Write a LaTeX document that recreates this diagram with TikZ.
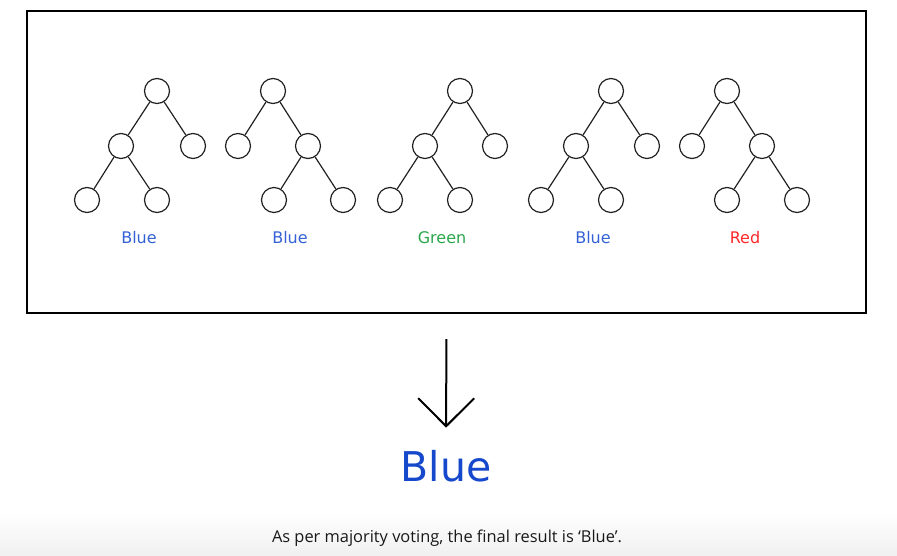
\documentclass[tikz,border=0pt]{standalone}
\usepackage{fontspec}
\setmainfont{DejaVu Sans}
\newfontfamily\capfont{Open Sans}
\usetikzlibrary{arrows.meta}
\definecolor{voteblue}{RGB}{52,98,214}
\definecolor{votegreen}{RGB}{44,166,76}
\definecolor{votered}{RGB}{255,40,40}
\definecolor{finalblue}{RGB}{22,72,204}
\definecolor{treeline}{RGB}{34,34,34}

\begin{document}
\begin{tikzpicture}[x=1pt,y=-1pt,
		vote/.style={circle, draw=treeline, minimum size=25pt, inner sep=0pt, line width=1.2pt},
		tally/.style={font=\fontsize{16}{18}\selectfont}]
		\useasboundingbox (0,0) rectangle (897,556);
		\shade[top color=white, bottom color=black!6] (0,512) rectangle (897,556);

		\draw (446.5,162) node [draw, line width=2.2pt, minimum width=839pt, minimum height=302pt] (box) {};

		% tree 1
		\draw (157,91) node [vote] (a1) {};
		\draw (121,146) node [vote] (b1) {};
		\draw (193,146) node [vote] (c1) {};
		\draw (87,200) node [vote] (d1) {};
		\draw (157,200) node [vote] (e1) {};
		% tree 2
		\draw (273,91) node [vote] (a2) {};
		\draw (308,146) node [vote] (b2) {};
		\draw (238,146) node [vote] (c2) {};
		\draw (274,200) node [vote] (d2) {};
		\draw (343,200) node [vote] (e2) {};
		% tree 3
		\draw (460,91) node [vote] (a3) {};
		\draw (425,146) node [vote] (b3) {};
		\draw (495,146) node [vote] (c3) {};
		\draw (390,200) node [vote] (d3) {};
		\draw (460,200) node [vote] (e3) {};
		% tree 4
		\draw (611,91) node [vote] (a4) {};
		\draw (576,146) node [vote] (b4) {};
		\draw (647,146) node [vote] (c4) {};
		\draw (541,200) node [vote] (d4) {};
		\draw (611,200) node [vote] (e4) {};
		% tree 5
		\draw (727,91) node [vote] (a5) {};
		\draw (762,146) node [vote] (b5) {};
		\draw (692,146) node [vote] (c5) {};
		\draw (727,200) node [vote] (d5) {};
		\draw (797,200) node [vote] (e5) {};

		\draw [treeline, line width=1.2pt]
			(a1) edge (b1) (a1) edge (c1) (b1) edge (d1) (b1) edge (e1)
			(a2) edge (b2) (a2) edge (c2) (b2) edge (d2) (b2) edge (e2)
			(a3) edge (b3) (a3) edge (c3) (b3) edge (d3) (b3) edge (e3)
			(a4) edge (b4) (a4) edge (c4) (b4) edge (d4) (b4) edge (e4)
			(a5) edge (b5) (a5) edge (c5) (b5) edge (d5) (b5) edge (e5)
		;

		\draw (139,238) node [tally, text=voteblue] (v1) {Blue};
		\draw (290,238) node [tally, text=voteblue] (v2) {Blue};
		\draw (442,238) node [tally, text=votegreen] (v3) {Green};
		\draw (593,238) node [tally, text=voteblue] (v4) {Blue};
		\draw (745,238) node [tally, text=votered] (v5) {Red};

		\draw (446,481) node [anchor=base, inner sep=0pt, text=finalblue, font=\fontsize{41}{48}\selectfont] (res) {Blue};
		\draw [line width=2pt, -{Straight Barb[length=28pt, width=56pt, line width=2pt]}, shorten <=25pt, shorten >=22pt]
			(box.south) -- (res.north);

		\draw (447,538) node [text=black!90, font=\capfont\fontsize{16.4}{19}\selectfont] (cap)
			{As per majority voting, the final result is ‘Blue’.};
	\end{tikzpicture}
\end{document}
